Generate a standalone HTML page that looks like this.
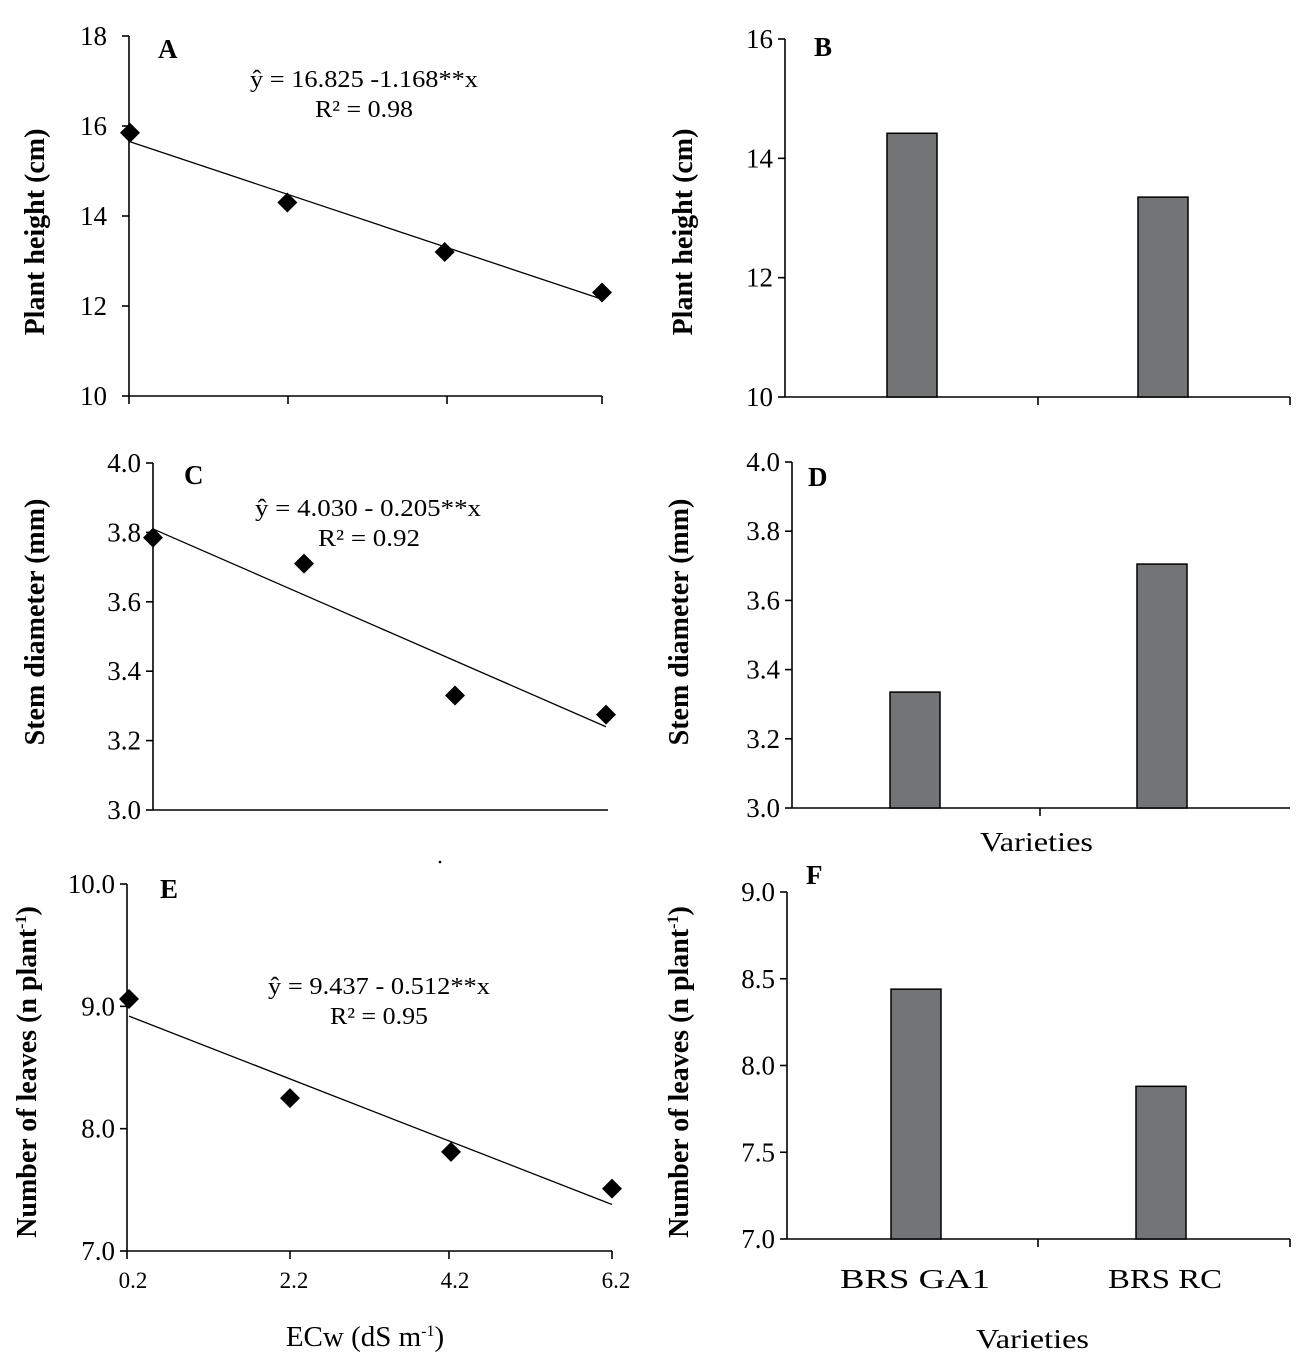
<!DOCTYPE html>
<html><head><meta charset="utf-8">
<style>
html,body{margin:0;padding:0;background:#fff;}
svg{display:block;font-family:"Liberation Serif",serif;}
.tick{font-size:27px;fill:#000;}
.ttl{font-size:28px;font-weight:bold;fill:#000;}
.eq{font-size:24px;fill:#000;}
.pl{font-size:27px;font-weight:bold;fill:#000;}
</style></head>
<body>
<svg id="fig" width="1296" height="1362" viewBox="0 0 1296 1362" xmlns="http://www.w3.org/2000/svg"></svg>
<script>
const ecw = [0.2, 2.2, 4.2, 6.2];
const ecwLabels = ["0.2", "2.2", "4.2", "6.2"];
const varieties = ["BRS GA1", "BRS RC"];
const heightA = [15.85, 14.3, 13.2, 12.3];
const heightAFit = [15.65, 12.15];
const heightB = [14.42, 13.35];
const stemC = [3.785, 3.71, 3.33, 3.275];
const stemCFit = [3.81, 3.24];
const stemD = [3.335, 3.705];
const leavesE = [9.06, 8.25, 7.81, 7.51];
const leavesEFit = [8.92, 7.38];
const leavesF = [8.44, 7.88];
const ticksA = [10, 12, 14, 16, 18];
const ticksB = [10, 12, 14, 16];
const ticksCD = [3.0, 3.2, 3.4, 3.6, 3.8, 4.0];
const ticksE = [7, 8, 9, 10];
const ticksF = [7.0, 7.5, 8.0, 8.5, 9.0];

const NS = "http://www.w3.org/2000/svg";
const svg = document.getElementById("fig");
function mk(tag, attrs, parent, text) {
  const e = document.createElementNS(NS, tag);
  for (const k in attrs) e.setAttribute(k, attrs[k]);
  if (text !== undefined) e.textContent = text;
  (parent || svg).appendChild(e);
  return e;
}
function lin(d0, d1, r0, r1) { return v => r0 + (v - d0) / (d1 - d0) * (r1 - r0); }

function axes(g, x0, x1, yTop, yBot, yDom, ticks, dec, xTicks, gap) {
  const y = lin(yDom[0], yDom[1], yBot, yTop);
  const ax = mk("line", {x1: x0, y1: yTop, x2: x0, y2: yBot, stroke: "#000", "stroke-width": 1.6}, g);
  
  
  const bx = mk("line", {x1: x0, y1: yBot, x2: x1, y2: yBot, stroke: "#000", "stroke-width": 1.6}, g);
  
  
  ticks.forEach(t => {
    mk("line", {x1: x0 - 7, y1: y(t), x2: x0, y2: y(t), stroke: "#000", "stroke-width": 1.6}, g);
    const s = t.toFixed(dec);
    const tl = mk("text", {x: x0 - gap, y: y(t) + 9, "text-anchor": "end", class: "tick"}, g, s);
    
    
  });
  xTicks.forEach(xx => mk("line", {x1: xx, y1: yBot, x2: xx, y2: yBot + 8, stroke: "#000", "stroke-width": 1.6}, g));
  return y;
}
function ytitle(g, x, yc, html) {
  const t = mk("text", {x: 0, y: 0, class: "ttl", "text-anchor": "middle", transform: `translate(${x},${yc}) rotate(-90)`}, g);
  t.innerHTML = html;
  
  
}
function label(g, x, y, s) {
  const t = mk("text", {x: x, y: y, class: "pl"}, g, s);
  
  
}
function scatter(g, x, y, xs, ys, fit) {
  const ln = mk("line", {x1: x(xs[0]), y1: y(fit[0]), x2: x(xs[xs.length - 1]), y2: y(fit[1]), stroke: "#000", "stroke-width": 1.3}, g);
  
  
  xs.forEach((xv, i) => {
    const cx = x(xv), cy = y(ys[i]);
    const p = mk("polygon", {points: `${cx},${cy - 10} ${cx + 10},${cy} ${cx},${cy + 10} ${cx - 10},${cy}`, fill: "#000"}, g);
    
    
  });
}
function bars(g, centers, vals, y, yBot) {
  vals.forEach((v, i) => {
    const r = mk("rect", {x: centers[i] - 25, y: y(v), width: 50, height: yBot - y(v), fill: "#727475", stroke: "#000", "stroke-width": 1.5}, g);
    
    
  });
}
function eq(g, x0, x1, y1, a, b, rx0, rx1) {
  const t1 = mk("text", {x: x0, y: y1, class: "eq", textLength: x1 - x0, lengthAdjust: "spacingAndGlyphs"}, g, a);
  
  
  const t2 = mk("text", {x: rx0, y: y1 + 30, class: "eq", textLength: rx1 - rx0, lengthAdjust: "spacingAndGlyphs"}, g, b);
  
  
}
function panel(name) {
  const g = mk("g", {});
  
  
  return g;
}
const sup = "<tspan dy='-10' font-size='16'>-1</tspan><tspan dy='10'>)</tspan>";

// Panel A
let g = panel("panel-a-plant-height-ecw");
let y = axes(g, 129, 602, 36, 396, [10, 18], ticksA, 0, [129, 288, 447, 602], 22);
let x = lin(0.2, 6.2, 130, 602);
scatter(g, x, y, ecw, heightA, heightAFit);
ytitle(g, 44, 232, "Plant height  (cm)");
label(g, 158, 58, "A");
eq(g, 250, 478, 87, "ŷ = 16.825  -1.168**x", "R² = 0.98", 315, 413);

// Panel B
g = panel("panel-b-plant-height-varieties");
y = axes(g, 785, 1290, 39, 397, [10, 16], ticksB, 0, [1038, 1290], 12);
bars(g, [912, 1163], heightB, y, 397);
ytitle(g, 692, 232, "Plant height  (cm)");
label(g, 814, 56, "B");

// Panel C
g = panel("panel-c-stem-diameter-ecw");
y = axes(g, 153, 608, 463, 810, [3.0, 4.0], ticksCD, 1, [], 12);
x = lin(0.2, 6.2, 153, 606);
scatter(g, x, y, ecw, stemC, stemCFit);
ytitle(g, 44, 622, "Stem diameter  (mm)");
label(g, 184, 484, "C");
eq(g, 255, 481, 516, "ŷ = 4.030  - 0.205**x", "R² = 0.92", 318, 420);

// Panel D
g = panel("panel-d-stem-diameter-varieties");
y = axes(g, 792, 1290, 462, 808, [3.0, 4.0], ticksCD, 1, [1040], 12);
bars(g, [915, 1162], stemD, y, 808);
ytitle(g, 688, 622, "Stem diameter  (mm)");
label(g, 808, 486, "D");
let vt = mk("text", {x: 980, y: 851, class: "tick", textLength: 113, lengthAdjust: "spacingAndGlyphs"}, g, "Varieties");



// Panel E
g = panel("panel-e-leaves-ecw");
y = axes(g, 127, 612, 884, 1251, [7, 10], ticksE, 1, [127, 290, 449, 612], 12);
x = lin(0.2, 6.2, 129, 612);
scatter(g, x, y, ecw, leavesE, leavesEFit);
ytitle(g, 36, 1072, "Number of leaves (n plant" + sup);
label(g, 160, 898, "E");
eq(g, 268, 490, 994, "ŷ = 9.437  - 0.512**x", "R² = 0.95", 330, 428);
mk("circle", {cx: 440, cy: 862, r: 1.3, fill: "#000"}, g);
ecwLabels.forEach((s, i) => {
  const t = mk("text", {x: x(ecw[i]) + 4, y: 1288, "text-anchor": "middle", class: "tick", style: "font-size:23px"}, g, s);
  
  
});
let et = mk("text", {x: 365, y: 1346, "text-anchor": "middle", class: "tick", style: "font-size:29px"}, g);
et.innerHTML = "ECw (dS m" + sup;



// Panel F
g = panel("panel-f-leaves-varieties");
y = axes(g, 787, 1290, 892, 1239, [7, 9], ticksF, 1, [1038, 1290], 12);
bars(g, [916, 1161], leavesF, y, 1239);
ytitle(g, 688, 1072, "Number of leaves (n plant" + sup);
label(g, 806, 884, "F");
[[840, 990], [1108, 1222]].forEach((r, i) => {
  const t = mk("text", {x: r[0], y: 1288, class: "tick", textLength: r[1] - r[0], lengthAdjust: "spacingAndGlyphs"}, g, varieties[i]);
  
  
});
vt = mk("text", {x: 976, y: 1348, class: "tick", textLength: 113, lengthAdjust: "spacingAndGlyphs"}, g, "Varieties");


</script>
</body></html>
